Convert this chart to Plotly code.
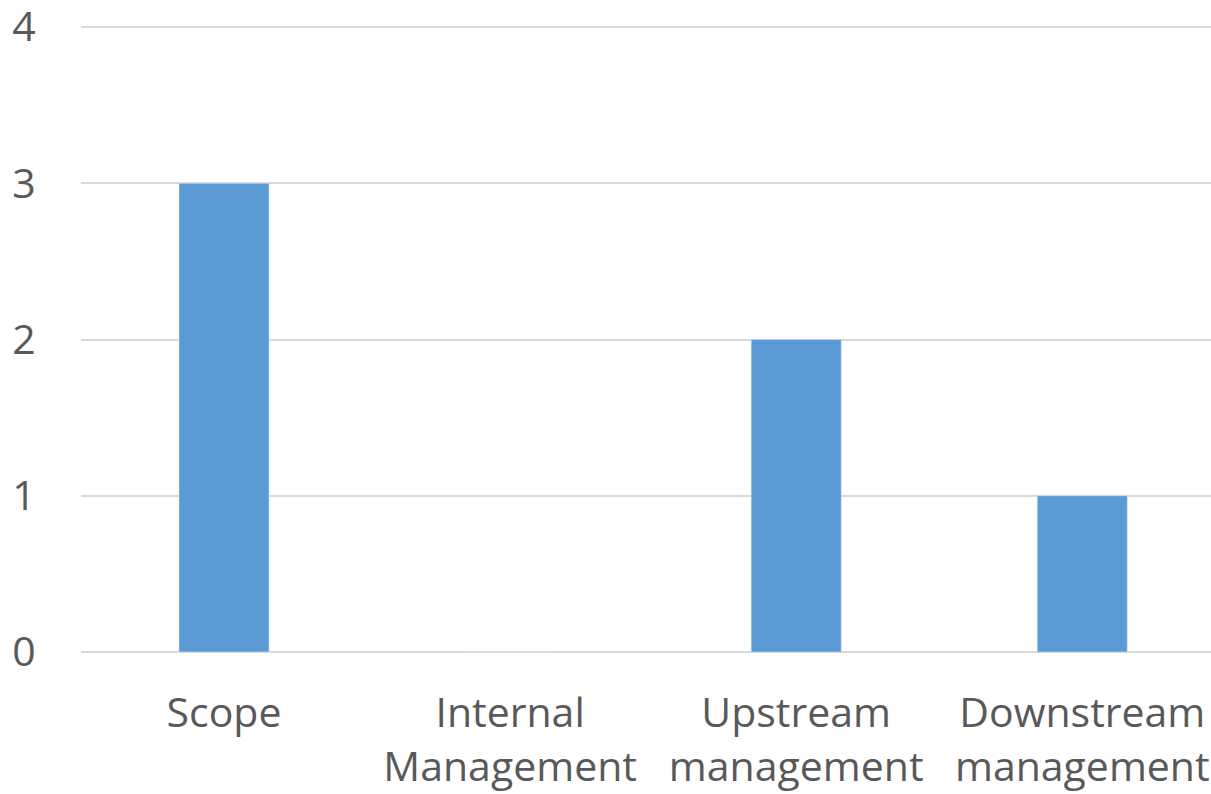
import plotly.graph_objects as go

categories = ["Scope", "Internal<br>Management", "Upstream<br>management", "Downstream<br>management"]
values = [3, 0, 2, 1]
y_ticks = [0, 1, 2, 3, 4]

fig = go.Figure(go.Bar(x=categories, y=values, marker_color="#5B9BD5", width=0.315))

fig.update_layout(
    width=1211, height=794,
    margin=dict(l=81, r=0, t=24, b=142),
    paper_bgcolor="white", plot_bgcolor="white",
    font=dict(family="Open Sans", size=41, color="#595959"),
    showlegend=False,
)
fig.update_xaxes(range=[-0.5, 3.45], showgrid=False, showline=False, zeroline=False, automargin=False,
                 ticks="outside", ticklen=25, tickcolor="rgba(0,0,0,0)", ticklabeloverflow="allow")
fig.update_yaxes(range=[0, 4.02], tickmode="array", tickvals=y_ticks, ticktext=[str(v) for v in y_ticks],
                 showgrid=True, gridcolor="#D9D9D9", gridwidth=1.5,
                 zeroline=True, zerolinecolor="#D9D9D9", zerolinewidth=1.5, automargin=False,
                 showline=False, ticks="outside", ticklen=36, tickcolor="rgba(0,0,0,0)",
                 ticklabeloverflow="allow")

fig.write_html("out.html", config={"displayModeBar": False},
               post_script="document.body.style.margin='0';document.body.style.overflow='hidden';")
